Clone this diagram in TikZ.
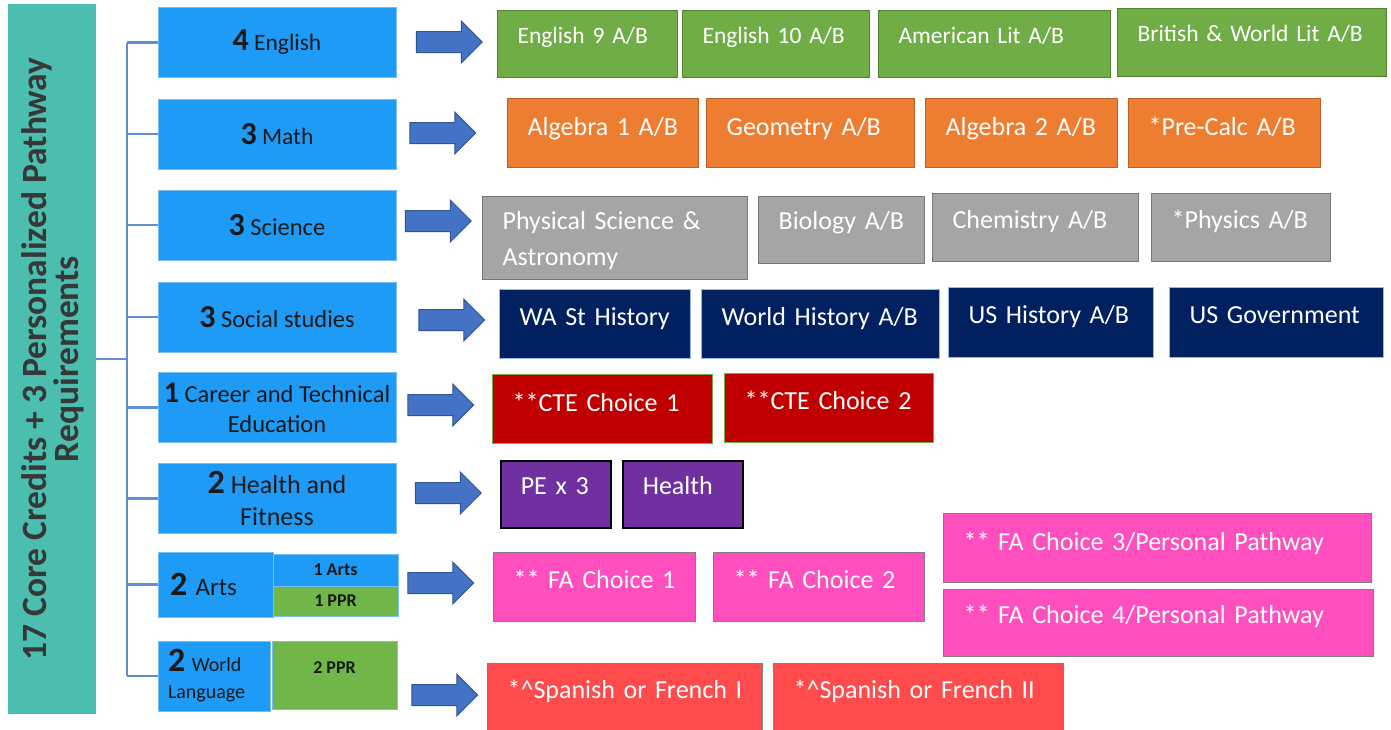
\documentclass[tikz,border=0pt]{standalone}
\usepackage{fontspec}
\setmainfont{Carlito}
\usetikzlibrary{shapes.arrows}

\definecolor{coreteal}{RGB}{75,190,175}
\definecolor{coretext}{RGB}{55,55,55}
\definecolor{catblue}{RGB}{29,155,246}
\definecolor{catline}{RGB}{120,190,245}
\definecolor{treeblue}{RGB}{95,143,208}
\definecolor{arrfill}{RGB}{68,114,196}
\definecolor{arrline}{RGB}{47,85,151}
\definecolor{pprgreen}{RGB}{112,182,72}
\definecolor{engfill}{RGB}{112,173,71}
\definecolor{engline}{RGB}{84,130,53}
\definecolor{mathfill}{RGB}{237,125,49}
\definecolor{mathline}{RGB}{190,95,35}
\definecolor{scifill}{RGB}{165,165,165}
\definecolor{sciline}{RGB}{120,120,120}
\definecolor{socfill}{RGB}{0,32,96}
\definecolor{socline}{RGB}{150,185,225}
\definecolor{ctefill}{RGB}{192,0,0}
\definecolor{cteline}{RGB}{112,173,71}
\definecolor{hffill}{RGB}{112,48,160}
\definecolor{fafill}{RGB}{255,79,191}
\definecolor{wlfill}{RGB}{255,75,75}
\definecolor{boxgray}{RGB}{128,128,128}

\newcommand{\catnum}[2][32]{{\fontsize{#1}{#1}\selectfont\bfseries #2}}

\begin{document}
\begin{tikzpicture}[x=1pt, y=-1pt,
    core/.style={rectangle, fill=coreteal, minimum width=88pt, minimum height=710pt},
    coretxt/.style={text=coretext, align=center, font=\fontsize{35.5}{32}\selectfont\bfseries},
    cat/.style={rectangle, draw=catline, fill=catblue, line width=1pt, text=black!90, minimum width=238pt, minimum height=70pt, inner xsep=3pt, align=center, font=\fontsize{24.5}{30}\selectfont},
    ppr/.style={rectangle, draw=catline, fill=pprgreen, line width=1pt, minimum width=125pt, text=black!90, font=\fontsize{18}{18}\selectfont\bfseries},
    tree/.style={draw=treeblue, line width=2.2pt},
    blockarrow/.style={single arrow, draw=arrline, fill=arrfill, line width=1pt, minimum height=66pt, minimum width=41pt, single arrow head extend=10.5pt, single arrow tip angle=90, inner xsep=0pt, inner ysep=10pt},
    course/.style={rectangle, line width=1.2pt, text=white, align=left, inner xsep=20pt, inner ysep=0pt, anchor=north west, font=\fontsize{26}{36}\selectfont},
    eng/.style={course, fill=engfill, draw=engline, text height=33pt, text depth=34pt, font=\fontsize{23.5}{30}\selectfont},
    math/.style={course, fill=mathfill, draw=mathline, text height=37pt, text depth=32pt},
    sci/.style={course, fill=scifill, draw=sciline, text height=35pt, text depth=33pt},
    soc/.style={course, fill=socfill, draw=socline, text height=36pt, text depth=33pt},
    cte/.style={course, fill=ctefill, draw=cteline, text height=36pt, text depth=33pt},
    hf/.style={course, fill=hffill, draw=black, line width=1.6pt, text height=34pt, text depth=33pt},
    fa/.style={course, fill=fafill, draw=boxgray, text height=36pt, text depth=33pt},
    wl/.style={course, fill=wlfill, draw=boxgray, text height=35pt, text depth=35pt}]

    \useasboundingbox (0,0) rectangle (1391,729);

    % left column
    \node[core] (core) at (52,359) {};
    \node[coretxt, rotate=90] (coreTxt) at ([xshift=1]core.center) {17 Core Credits + 3 Personalized Pathway\\Requirements};

    % credit boxes
    \node[cat, font=\fontsize{23.5}{30}\selectfont] (catEng) at (277,42.5) {\catnum{4} English};
    \node[cat, font=\fontsize{23.5}{30}\selectfont] (catMath) at (277,134) {\catnum{3} Math};
    \node[cat] (catSci) at (277,225) {\catnum{3} Science};
    \node[cat] (catSoc) at (277,317) {\catnum{3} Social studies};
    \node[cat] (catCte) at (277,407.5) {\catnum[30]{1} Career and Technical\\Education};
    \node[cat, font=\fontsize{26}{32}\selectfont] (catHf) at (277,498.5) {\catnum[34]{2} Health and\\Fitness};
    \node[cat, minimum width=115pt, minimum height=65pt, inner xsep=12pt, text width=91pt, align=left, font=\fontsize{25}{30}\selectfont] (catArts) at (215.5,584.5) {\catnum[34]{2} Arts};
    \node[cat, minimum width=125pt, minimum height=32pt, font=\fontsize{18}{18}\selectfont\bfseries] (artsA) at (335.5,570) {1 Arts};
    \node[ppr, minimum height=30pt] (artsP) at (335.5,601) {1 PPR};
    \node[cat, minimum width=112pt, inner xsep=10pt, text width=92pt, align=left, font=\fontsize{20}{27}\selectfont] (catWl) at (214,676) {\catnum[34]{2} World\\Language};
    \node[ppr, minimum height=68pt, text depth=14pt] (pprWl) at (334.5,675) {2 PPR};

    % tree
    \coordinate (trunk) at (127,359);
    \draw[tree] (core.east) -- (trunk);
    \draw[tree] (catEng.west -| trunk) -- (catWl.west -| trunk);
    \draw[tree] (catEng.west -| trunk) -- (catEng.west);
    \draw[tree] (catMath.west -| trunk) -- (catMath.west);
    \draw[tree] (catSci.west -| trunk) -- (catSci.west);
    \draw[tree] (catSoc.west -| trunk) -- (catSoc.west);
    \draw[tree] (catCte.west -| trunk) -- (catCte.west);
    \draw[tree] (catHf.west -| trunk) -- (catHf.west);
    \draw[tree] (catArts.west -| trunk) -- (catArts.west);
    \draw[tree] (catWl.west -| trunk) -- (catWl.west);

    % arrows
    \node[blockarrow] (arrEng) at (444,42) {};
    \node[blockarrow] (arrMath) at (437.5,133) {};
    \node[blockarrow] (arrSci) at (433,221) {};
    \node[blockarrow] (arrSoc) at (446.5,320) {};
    \node[blockarrow] (arrCte) at (435.5,405) {};
    \node[blockarrow] (arrHf) at (443,493) {};
    \node[blockarrow] (arrArts) at (435.5,583) {};
    \node[blockarrow] (arrWl) at (439.5,695) {};

    % courses
    \node[eng, text width=140pt] (eng9) at (497,10) {English 9 A/B};
    \node[eng, text width=147pt] (eng10) at (682,10) {English 10 A/B};
    \node[eng, text width=192pt] (amLit) at (878,10) {American Lit A/B};
    \node[eng, text width=229pt, text depth=35pt] (brLit) at (1117,8) {British \& World Lit A/B};

    \node[math, text width=151pt] (alg1) at (507,98) {Algebra 1 A/B};
    \node[math, text width=168pt] (geom) at (706,98) {Geometry A/B};
    \node[math, text width=152pt] (alg2) at (925,98) {Algebra 2 A/B};
    \node[math, text width=152pt] (preCalc) at (1128,98) {*Pre-Calc A/B};

    \node[sci, text width=225pt, text height=33pt, text depth=50pt] (physSci) at (482,196) {Physical Science \&\\Astronomy};
    \node[sci, text width=126pt, text height=33pt, text depth=34pt] (bio) at (758,196) {Biology A/B};
    \node[sci, text width=166pt] (chem) at (932,193) {Chemistry A/B};
    \node[sci, text width=139pt] (phys) at (1151,193) {*Physics A/B};

    \node[soc, text width=151pt] (waHist) at (499,289) {WA St History};
    \node[soc, text width=198pt] (worldHist) at (701,289) {World History A/B};
    \node[soc, text width=165pt, text depth=34pt] (usHist) at (948,287) {US History A/B};
    \node[soc, text width=174pt, text depth=34pt] (usGov) at (1169,287) {US Government};

    \node[cte, text width=180pt, text height=37pt, text depth=32pt] (cte1) at (492,374) {**CTE Choice 1};
    \node[cte, text width=169pt] (cte2) at (724,373) {**CTE Choice 2};

    \node[hf, text width=70pt] (pe) at (500,460) {PE x 3};
    \node[hf, text width=80pt] (health) at (622,460) {Health};

    \node[fa, text width=162pt] (fa1) at (493,552) {** FA Choice 1};
    \node[fa, text width=171pt] (fa2) at (713,552) {** FA Choice 2};
    \node[fa, text width=388pt, text height=37pt, text depth=32pt] (fa3) at (943,513) {** FA Choice 3/Personal Pathway};
    \node[fa, text width=390pt, text height=34pt] (fa4) at (943,589) {** FA Choice 4/Personal Pathway};

    \node[wl, text width=235pt] (span1) at (487,663) {*\^{}Spanish or French I};
    \node[wl, text width=250pt] (span2) at (773,663) {*\^{}Spanish or French II};

\end{tikzpicture}
\end{document}
